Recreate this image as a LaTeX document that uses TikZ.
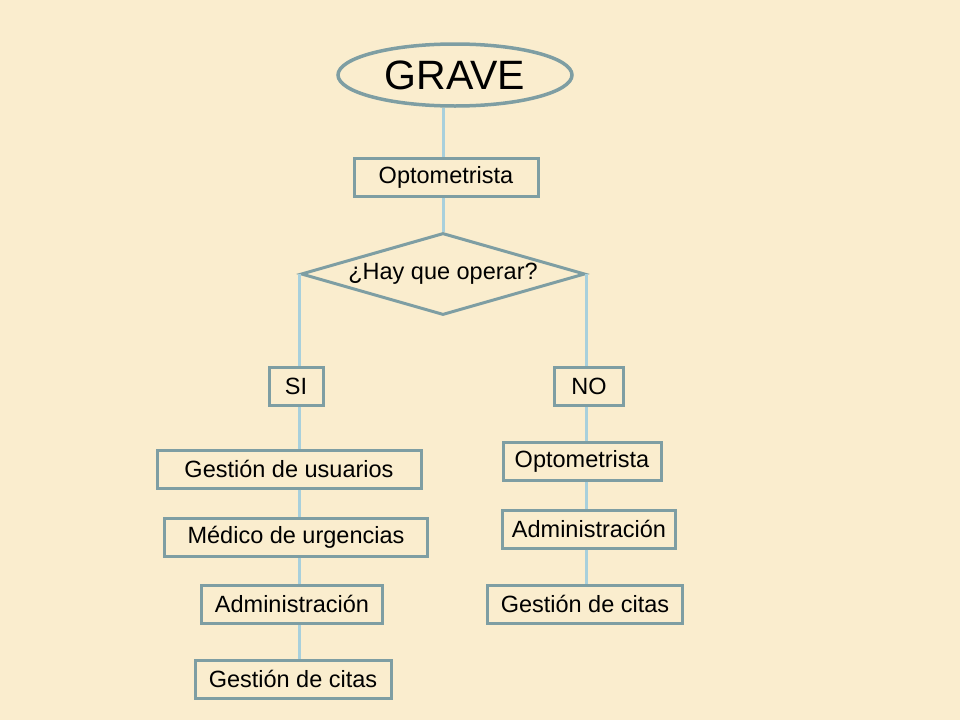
\documentclass[tikz,border=0pt]{standalone}
\usepackage{fontspec}
\setmainfont{Liberation Sans}
\usetikzlibrary{shapes.geometric}
\definecolor{pergamino}{RGB}{250,237,206}
\definecolor{borde}{RGB}{126,158,163}
\definecolor{celeste}{RGB}{168,208,220}
\tikzset{
  caja/.style={draw=borde, line width=3pt, rectangle, inner sep=0pt,
    minimum height=38pt, font=\fontsize{23.5}{28}\selectfont},
  elipse/.style={draw=borde, line width=3.5pt, ellipse, inner sep=0pt,
    minimum width=234pt, minimum height=62pt, font=\fontsize{41}{48}\selectfont},
  rombo/.style={draw=borde, line width=3pt, diamond, inner sep=0pt, aspect=3.46,
    minimum width=284pt, minimum height=82pt, font=\fontsize{23.5}{28}\selectfont},
  linea/.style={draw=celeste, line width=3pt}
}
\begin{document}
\begin{tikzpicture}[x=1pt,y=-1pt]
\fill[pergamino] (0,0) rectangle (960,720);
\useasboundingbox (0,0) rectangle (960,720);

% tronco comun
\node[elipse] (grave) at (455,75) {GRAVE};
\node[caja, minimum width=184pt] (opt) at (446,177) {Optometrista};
\node[rombo] (pregunta) at (443,274) {¿Hay que operar?};

% rama SI
\foreach \nombre/\cx/\cy/\ancho/\texto in {
    si/296/386/54/SI,
    usu/289/469/264/Gestión de usuarios,
    med/296/537/263/Médico de urgencias,
    admi/292/604/181/Administración,
    citi/293/679/196/Gestión de citas} {
  \node[caja, minimum width=\ancho pt] (\nombre) at (\cx,\cy) {\texto};
}

% rama NO
\foreach \nombre/\cx/\cy/\ancho/\texto in {
    no/589/386/69/NO,
    optd/582/461/158/Optometrista,
    admd/589/529/173/Administración,
    citd/585/604/195/Gestión de citas} {
  \node[caja, minimum width=\ancho pt] (\nombre) at (\cx,\cy) {\texto};
}

% conectores
\coordinate (eje) at (pregunta.north);
\coordinate (izq) at (pregunta.west);
\coordinate (der) at (pregunta.east);
\draw[linea] (grave.south -| eje) -- (opt.north -| eje);
\draw[linea] (opt.south -| eje) -- (pregunta.north);
\draw[linea] (izq) -- (si.north -| izq);
\draw[linea] (der) -- (no.north -| der);
\foreach \a/\b in {si/usu, usu/med, med/admi, admi/citi}
  \draw[linea] (\a.south -| izq) -- (\b.north -| izq);
\foreach \a/\b in {no/optd, optd/admd, admd/citd}
  \draw[linea] (\a.south -| der) -- (\b.north -| der);
\end{tikzpicture}
\end{document}
